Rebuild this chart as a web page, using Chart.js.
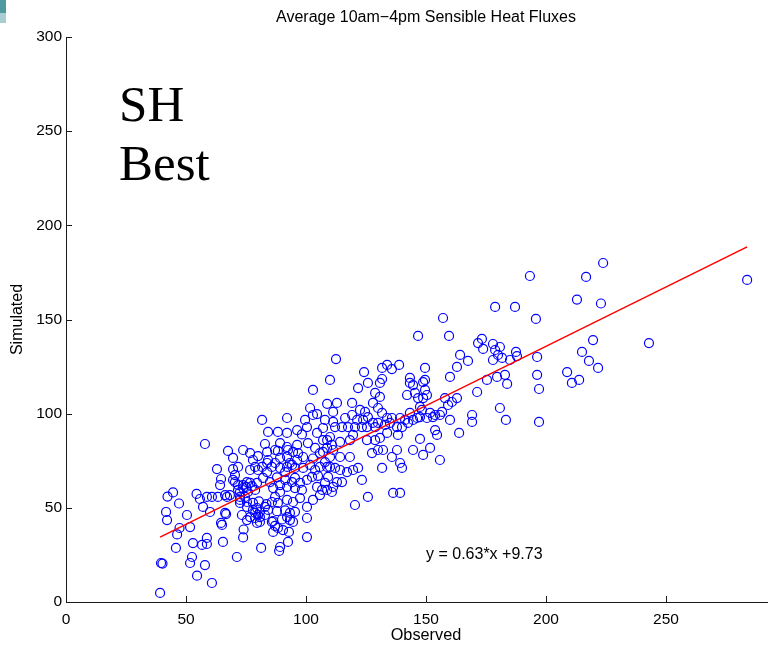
<!DOCTYPE html>
<html>
<head>
<meta charset="utf-8">
<script src="https://cdn.jsdelivr.net/npm/chart.js@4.4.0/dist/chart.umd.min.js"></script>
<style>
  html, body { margin: 0; padding: 0; background: #ffffff; overflow: hidden; width: 768px; height: 645px; }
  #wrap { position: absolute; left: 0; top: 0; width: 800px; height: 645px; }
  #corner1 { position: absolute; left: 0; top: 0; width: 6px; height: 13px; background: #4f9aa0; }
  #corner2 { position: absolute; left: 0; top: 13px; width: 6px; height: 10px; background: #a9cdd0; }
</style>
</head>
<body>
<div id="wrap"><canvas id="c" width="800" height="645"></canvas></div>
<div id="corner1"></div><div id="corner2"></div>
<script>
// ---- data ----
const observed = [
 39.2,39.6,40.2,41.7,42.1,42.3,44.6,45.8,46.3,47.1,47.3,50.4,51.7,51.7,52.5,52.9,54.4,54.6,56.7,57.1,55.8,58.7,58.7,57.9,57.9,58.7,60.8,60,60.8,
 62.9,63.3,64.2,64.6,64.6,65,65.4,66.7,67.1,66.3,66.3,67.5,68.3,69.6,69.6,70.4,70.4,71.2,71.7,71.7,71.7,72.5,72.5,72.5,72.5,73.3,73.8,73.8,73.8,73.8,74.6,75,75.4,75.4,75.4,75.4,75.8,76.7,76.7,76.7,76.7,77.5,77.9,77.9,77.9,78.8,78.8,78.8,80,79.6,79.6,79.6,80,80.8,80.8,80.8,81.3,81.7,81.7,82.1,82.9,82.9,82.9,83.8,83.8,83.8,84.2,84.2,84.2,85,85.8,85.8,85.8,86.3,86.3,86.3,87.1,87.1,87.1,87.1,88.3,88.3,88.3,88.3,88.8,89.2,89.2,89.2,89.2,89.2,90.4,91.3,91.3,92.1,92.1,92.1,92.1,92.1,92.1,92.1,92.5,92.5,92.9,93.3,93.3,93.3,94.2,94.2,94.6,94.6,94.6,95.4,95.4,95.4,96.3,96.3,96.3,96.7,97.5,97.5,98.8,99.6,
 98.3,69.6,80,89.2,92.1,98.8,102.9,110,87.9,105,78.8,98.3,80.4,83.5,87.9,91.3,95.4,90,74,
 100.4,100.4,100.4,100.4,100.4,100.8,101.7,101.7,102.5,102.9,102.9,102.9,103.8,103.8,104.6,104.6,104.6,105.8,105.8,105.8,106.7,107.1,107.1,107.1,107.9,107.9,107.9,108.8,108.8,108.8,108.8,108.8,109.2,110,110,110,110.8,110.8,111.3,111.3,111.3,111.3,112.1,112.1,112.5,112.9,112.9,114.2,114.2,114.2,115,115,116.3,117.1,117.5,118.3,118.3,119.2,119.2,119.6,119.6,120.4,120.4,121.3,121.7,121.7,122.5,123.3,123.3,123.8,124.2,124.6,125.4,125.4,125.8,125.8,125.8,127.5,127.9,127.9,128.8,128.8,128.8,130,130,130,130.8,130.8,130.8,131.7,131.7,131.7,131.7,132.1,132.9,133.8,133.8,133.8,135,135.8,135.8,135.8,136.3,137.9,137.9,138.3,138.8,139.2,139.2,139.2,
 140,140,141.3,142.1,142.5,143.3,143.3,143.3,144.6,144.6,144.6,145.4,146.3,146.7,146.7,147.5,147.5,147.5,148.3,148.8,148.8,148.8,149.6,149.6,149.6,150.4,150.4,151.7,151.7,152.9,153.8,153.8,154.6,155.8,155.8,156.7,157.1,157.9,159.2,159.6,160,160,160.8,162.9,162.9,163.8,164.2,167.5,169.2,169.2,171.3,171.7,173.3,173.8,175.4,177.9,177.9,178.8,178.8,179.6,180,180.8,180.8,181.7,182.9,183.3,183.8,185,187.1,187.5,187.9,193.3,195.8,196.3,196.3,197.1,197.1,
 208.8,210.8,212.9,213.8,215,216.7,217.9,219.6,221.7,222.9,223.8,242.9,283.8
];
const simulated = [
 4.8,20.7,20.4,47.8,43.5,56,58.2,28.7,35.9,52.3,39.3,46.2,39.8,20.7,23.9,31.3,57.4,14,30.3,50.5,54.7,30.8,34,19.6,83.9,55.8,10.1,47.8,55.8,
 70.6,55.8,62.1,65.3,42,40.9,31.9,46.7,55.8,47.3,56.8,80.2,56.8,70.6,64.8,67.4,63.7,23.9,71.7,62.1,59.5,58.4,55.8,54.2,52.6,46.2,80.7,62.1,60.5,34.3,55.8,61.1,63.7,50.5,53.1,43.5,58.4,63.2,70.1,45.1,79.1,61.5,75.4,48.9,52.6,71.7,47.3,44.6,70.1,63.2,49.9,42,46.2,42.5,45.1,47.8,28.7,96.7,71.7,65.9,83.9,50.5,46.2,79.7,69,73.8,90.3,75.4,48.9,63.7,71.7,53.1,42.5,60.5,43,37.2,73.8,40.4,80.7,55.8,90.3,80.2,52.6,39.3,27.1,84.4,71.2,62.1,58.4,29.2,38.2,69,64.8,97.7,89.8,82.3,71.7,61.1,54.2,45.1,80.7,31.9,37.2,73.8,47.3,43.5,72.8,63.7,79.7,53.1,42.5,71.2,60.5,65.9,91.3,83.4,75.4,79.1,63.2,55.2,71.2,96.7,
 89,76.5,77.5,76.5,77.2,77,76.2,77,66.2,67,59.5,59.5,53.4,52,48.2,48.6,47.9,43.8,38.5,
 92.9,64.8,50.5,44.6,34.5,84.4,103,72.8,66.4,112.6,99.3,54.2,81.8,70.1,99.8,89.8,61.1,79.1,71.7,56.8,59.5,92.4,86,79.7,96.7,74.3,63.2,81.8,71.7,105.2,86,59.5,66.4,117.9,87.6,71.7,83.4,58.4,100.9,95.6,80.7,61.1,92.9,71.2,129,105.7,63.7,85,77,70.1,92.9,63.7,97.7,69,92.9,86,77,105.7,99.3,88.7,70.1,92.9,51.5,96.7,113.6,71.2,102,92.9,64.8,96.7,122.1,100.9,92.9,86,116.3,98.2,55.8,79.1,105.7,95.1,111,92.9,86,103,95.1,80.7,116.3,108.9,87.1,124.3,118.4,100.4,71.2,80.7,94,125.9,97.7,89.8,95.1,123.7,97.7,77,57.9,92.9,80.7,88.7,125.9,97.7,73.8,57.9,
 92.9,71.2,96.7,109.9,95.1,116.3,119,100.4,115.2,96.7,80.7,111,97.7,141.3,108.3,103.6,98.2,86.6,102,116.8,108.3,78.1,124.3,117.9,112.6,109.9,97.7,100.4,81.8,98.2,99.3,91.3,88.7,99.3,75.4,100.9,150.8,108.3,104.6,141.3,119.5,96.7,106.2,124.8,108.3,89.8,131.2,128,99.3,95.6,111.5,137.5,139.7,134.4,117.9,137,128.5,156.7,133.8,119.5,131.2,135.4,103,129.6,120.6,96.7,115.8,128.5,156.7,132.8,130.6,173.1,150.3,130.1,120.6,113.1,95.6,
 122.1,116.3,160.6,117.9,132.8,172.6,128,139.1,124.3,158.5,180,137.5,171
];
const xTicks = [0, 50, 100, 150, 200, 250, 300];
const yTicks = [0, 50, 100, 150, 200, 250, 300];
const slope = 0.63;
const intercept = 9.73;
const titleText = 'Average 10am\u22124pm Sensible Heat Fluxes';
const xLabel = 'Observed';
const yLabel = 'Simulated';
const noteLines = ['SH', 'Best'];
const eqText = 'y = 0.63*x +9.73';

// ---- build library structures ----
const points = observed.map((v, i) => ({ x: v, y: simulated[i] }));
const xMin = Math.min(...observed), xMax = Math.max(...observed);
const fitLine = [xMin, xMax].map(v => ({ x: v, y: slope * v + intercept }));

const axisColor = '#1a1a1a';
const sans = '"Liberation Sans", Arial, Helvetica, sans-serif';

const decorPlugin = {
  id: 'decor',
  afterDraw(chart) {
    const { ctx, chartArea, scales: { x, y } } = chart;
    ctx.save();
    // inward tick marks
    ctx.strokeStyle = axisColor;
    ctx.lineWidth = 1;
    ctx.beginPath();
    xTicks.forEach(v => {
      const px = Math.round(x.getPixelForValue(v)) + 0.5;
      ctx.moveTo(px, chartArea.bottom);
      ctx.lineTo(px, chartArea.bottom - 6);
    });
    yTicks.forEach(v => {
      const py = Math.round(y.getPixelForValue(v)) + 0.5;
      ctx.moveTo(chartArea.left, py);
      ctx.lineTo(chartArea.left + 6, py);
    });
    ctx.stroke();
    // annotations placed in data space
    ctx.fillStyle = '#000';
    ctx.textAlign = 'left';
    ctx.textBaseline = 'alphabetic';
    ctx.font = '51px "Liberation Serif", "Times New Roman", serif';
    ctx.fillText(noteLines[0], x.getPixelForValue(22.1), y.getPixelForValue(255.4));
    ctx.fillText(noteLines[1], x.getPixelForValue(22.1), y.getPixelForValue(224.1));
    ctx.font = '16px ' + sans;
    ctx.textBaseline = 'middle';
    ctx.fillText(eqText, x.getPixelForValue(150), y.getPixelForValue(25));
    ctx.restore();
  }
};

new Chart(document.getElementById('c'), {
  data: {
    datasets: [
      {
        type: 'line',
        data: fitLine,
        borderColor: '#ff0000',
        borderWidth: 1.5,
        pointRadius: 0,
        fill: false,
        order: 0
      },
      {
        type: 'scatter',
        data: points,
        borderColor: '#0000ff',
        backgroundColor: 'rgba(0,0,0,0)',
        borderWidth: 1.2,
        pointRadius: 4.5,
        pointHoverRadius: 4.5,
        order: 1
      }
    ]
  },
  options: {
    responsive: false,
    animation: false,
    events: [],
    layout: { padding: { left: 0, right: 14, top: 0, bottom: 0 } },
    plugins: {
      legend: { display: false },
      tooltip: { enabled: false },
      title: {
        display: true,
        text: titleText,
        fullSize: false,
        color: '#000',
        font: { family: sans, size: 16, weight: 'normal', lineHeight: 1.2 },
        padding: { top: 7.5, bottom: 10.3 }
      }
    },
    scales: {
      x: {
        type: 'linear',
        min: xTicks[0],
        max: xTicks[xTicks.length - 1],
        afterFit: s => { s.height = 43; },
        afterBuildTicks: s => { s.ticks = xTicks.map(v => ({ value: v })); },
        grid: { display: true, drawOnChartArea: false, drawTicks: false },
        border: { display: true, color: axisColor, width: 1 },
        ticks: {
          color: '#000',
          padding: 8,
          maxRotation: 0,
          autoSkip: false,
          font: { family: sans, size: 15.5 },
          callback: v => (v === 300 ? '' : String(v))
        },
        title: {
          display: true,
          text: xLabel,
          color: '#000',
          font: { family: sans, size: 16.3, lineHeight: 1.2 },
          padding: { top: 0, bottom: 0 }
        }
      },
      y: {
        type: 'linear',
        min: yTicks[0],
        max: yTicks[yTicks.length - 1],
        afterFit: s => { s.width = 66; },
        afterBuildTicks: s => { s.ticks = yTicks.map(v => ({ value: v })); },
        grid: { display: true, drawOnChartArea: false, drawTicks: false },
        border: { display: true, color: axisColor, width: 1 },
        ticks: {
          color: '#000',
          padding: 4,
          autoSkip: false,
          font: { family: sans, size: 15.5 }
        },
        title: {
          display: true,
          text: yLabel,
          color: '#000',
          font: { family: sans, size: 16, lineHeight: 1.2 },
          padding: { top: 8, bottom: 0 }
        }
      }
    }
  },
  plugins: [decorPlugin]
});
</script>
</body>
</html>
